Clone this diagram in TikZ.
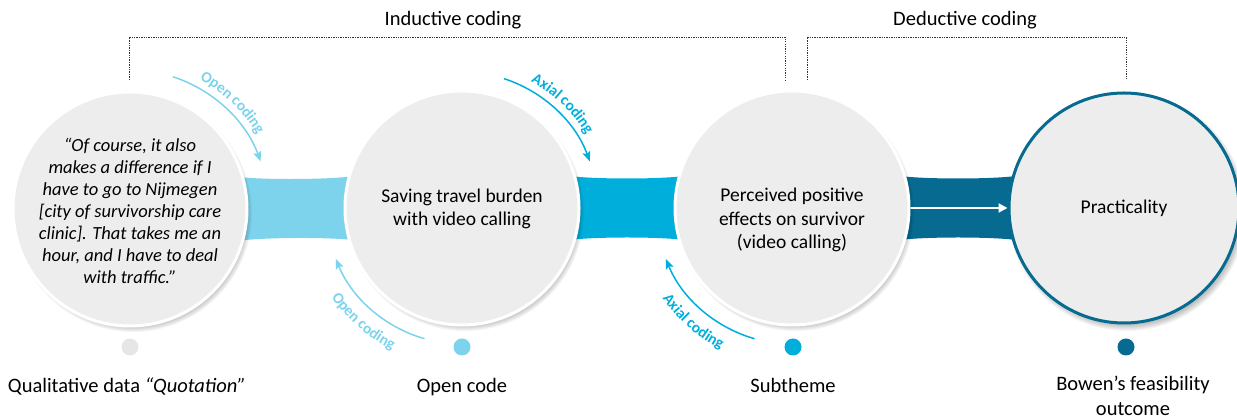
\documentclass[tikz,border=0pt]{standalone}
\usepackage{fontspec}
\setmainfont{Carlito}
\usetikzlibrary{calc,decorations.text,arrows.meta}
\definecolor{cLight}{HTML}{7DD3EC}
\definecolor{cMid}{HTML}{00AEDB}
\definecolor{cDark}{HTML}{066A91}
\definecolor{cFill}{HTML}{EDEDED}
\definecolor{cDotGray}{HTML}{E6E6E6}
\definecolor{cBracket}{HTML}{333333}
\newcommand{\arcfnt}{\bfseries\fontsize{15.5}{16}\selectfont}
\begin{document}
\begin{tikzpicture}[x=1pt,y=1pt,
  bubble/.style={circle, minimum size=234pt, inner sep=0pt, fill=cFill, draw=white, line width=3pt},
  btext/.style={align=center, inner sep=0pt, font=\fontsize{19.5}{23.5}\selectfont},
  qtext/.style={align=center, inner sep=0pt, font=\itshape\fontsize{18.5}{22}\selectfont},
  dotmark/.style={circle, minimum size=17pt, inner sep=0pt},
  lab/.style={font=\fontsize{20.5}{25}\selectfont, inner sep=0pt, align=center},
  bracket/.style={cBracket, line width=0.8pt, dash pattern=on 1.3pt off 1.1pt},
  arcarrow/.style={line width=1.5pt, -{Stealth[length=10pt,width=8pt,inset=2pt]}},
]
\useasboundingbox (0,0) rectangle (1237,419);
% positions
\coordinate (p1) at (130,210);
\coordinate (p2) at (462,211);
\coordinate (p3) at (792,211);
\coordinate (p4) at (1124,211);
% bands
\fill[cLight] ($(p1)+(100,34)$) .. controls ($(p1)!.33!(p2)+(0,28)$) and ($(p1)!.67!(p2)+(0,28)$) .. ($(p2)+(-100,34)$)
  -- ($(p2)+(-100,-34)$) .. controls ($(p1)!.67!(p2)+(0,-28)$) and ($(p1)!.33!(p2)+(0,-28)$) .. ($(p1)+(100,-34)$) -- cycle;
\fill[cMid] ($(p2)+(100,34)$) .. controls ($(p2)!.33!(p3)+(0,28)$) and ($(p2)!.67!(p3)+(0,28)$) .. ($(p3)+(-100,34)$)
  -- ($(p3)+(-100,-34)$) .. controls ($(p2)!.67!(p3)+(0,-28)$) and ($(p2)!.33!(p3)+(0,-28)$) .. ($(p2)+(100,-34)$) -- cycle;
\fill[cDark] ($(p3)+(100,34)$) .. controls ($(p3)!.33!(p4)+(0,28)$) and ($(p3)!.67!(p4)+(0,28)$) .. ($(p4)+(-100,34)$)
  -- ($(p4)+(-100,-34)$) .. controls ($(p3)!.67!(p4)+(0,-28)$) and ($(p3)!.33!(p4)+(0,-28)$) .. ($(p3)+(100,-34)$) -- cycle;
% soft shadows
\foreach \p in {p1,p2,p3,p4}{
  \foreach \k in {0,1,2,3,4,5,6}{
    \fill[black, opacity=0.04] ($(\p)+(3,-4)$) circle[radius=113+\k];
  }
}
% circles
\node[bubble, label={[qtext, yshift=-2pt]center:“Of course, it also\\makes a difference if I\\have to go to Nijmegen\\{[}city of survivorship care\\clinic]. That takes me an\\hour, and I have to deal\\with traffic.”}] (c1) at (p1) {};
\node[bubble, label={[btext, yshift=-1pt]center:Saving travel burden\\with video calling}] (c2) at (p2) {};
\node[bubble, label={[btext, yshift=-12pt]center:Perceived positive\\effects on survivor\\(video calling)}] (c3) at (p3) {};
\node[bubble, draw=cDark, minimum size=230pt, label={[btext]center:Practicality}] (c4) at (p4) {};
% white arrow
\draw[white, line width=2pt, -{Triangle[length=9pt,width=9pt]}] (c3.east) -- (c4.west);
% dots
\node[dotmark, fill=cDotGray] (d1) at (130,72) {};
\node[dotmark, fill=cLight] (d2) at (462,72) {};
\node[dotmark, fill=cMid] (d3) at (793,72) {};
\node[dotmark, fill=cDark] (d4) at (1126,72) {};
% bottom labels
\node[lab, anchor=base] (l1) at (127,26) {Qualitative data \textit{“Quotation”}};
\node[lab, anchor=base] (l2) at (462,26) {Open code};
\node[lab, anchor=base] (l3) at (793,26) {Subtheme};
\node[lab, anchor=north] (l4) at (1133,43) {Bowen’s feasibility\\outcome};
% top labels and brackets
\node[lab] (ind) at (453,399) {Inductive coding};
\node[lab] (ded) at (965,399) {Deductive coding};
\draw[bracket] (129,339) |- (785,382) -- (785,339);
\draw[bracket] (807,339) |- (1126,382) -- (1126,339);
% curved arrows
\draw[arcarrow, cLight] ($(p1)+(72:139pt)$) arc[start angle=72, end angle=20, radius=139pt];
\path[decorate, decoration={text along path, text align=center, text={|\arcfnt\color{cLight}|Open coding}}]
  ($(p1)+(68:147pt)$) arc[start angle=68, end angle=24, radius=147pt];
\draw[arcarrow, cMid] ($(p2)+(72:136pt)$) arc[start angle=72, end angle=20, radius=136pt];
\path[decorate, decoration={text along path, text align=center, text={|\arcfnt\color{cMid}|Axial coding}}]
  ($(p2)+(68:144pt)$) arc[start angle=68, end angle=24, radius=144pt];
\draw[arcarrow, cLight] ($(p2)+(254:136pt)$) arc[start angle=254, end angle=202, radius=136pt];
\path[decorate, decoration={text along path, text align=center, text={|\arcfnt\color{cLight}|Open coding}}]
  ($(p2)+(206:158pt)$) arc[start angle=206, end angle=252, radius=158pt];
\draw[arcarrow, cMid] ($(p3)+(254:136pt)$) arc[start angle=254, end angle=202, radius=136pt];
\path[decorate, decoration={text along path, text align=center, text={|\arcfnt\color{cMid}|Axial coding}}]
  ($(p3)+(206:158pt)$) arc[start angle=206, end angle=252, radius=158pt];
\end{tikzpicture}
\end{document}
